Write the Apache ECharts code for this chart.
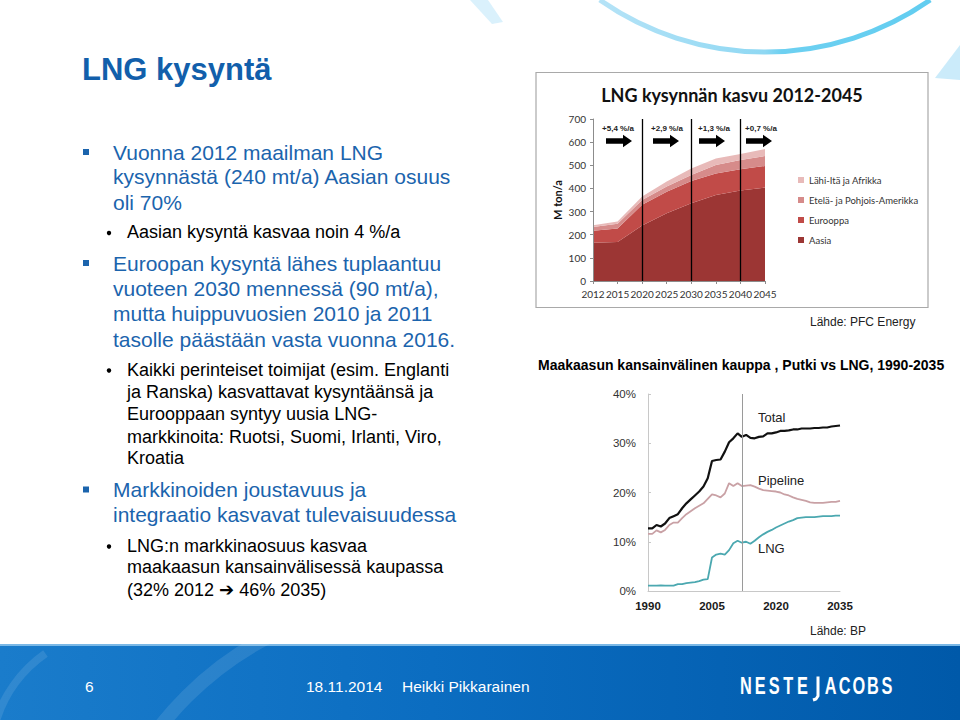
<!DOCTYPE html>
<html>
<head>
<meta charset="utf-8">
<script src="https://cdn.jsdelivr.net/npm/echarts@6/dist/echarts.min.js"></script>
<style>
html,body{margin:0;padding:0;background:#fff;}
#main{width:960px;height:720px;}
</style>
</head>
<body>
<div id="main"></div>
<script>
// ---------- DATA ----------
// Chart 1: LNG kysynnän kasvu 2012-2045 (M ton/a)
const lngYears = ['2012','2015','2020','2025','2030','2035','2040','2045'];
const aasia    = [165, 168, 240, 293, 336, 372, 391, 404];
const eurooppa = [52, 59, 89, 93, 96, 93, 92, 93];
const amerikka = [16, 20, 21, 22, 26, 36, 40, 43];
const lahiIta  = [8, 10, 15, 22, 28, 28, 26, 30];
const dividerYears = ['2020','2030','2040'];
const growthLabels = ['+5,4 %/a','+2,9 %/a','+1,3 %/a','+0,7 %/a'];
const lngTicks = [0,100,200,300,400,500,600,700];

// Chart 2: Maakaasun kansainvälinen kauppa, 1990-2035 (%)
const tradeYears = ['1990','1991','1992','1993','1994','1995','1996','1997','1998','1999',
  '2000','2001','2002','2003','2004','2005','2006','2007','2008','2009',
  '2010','2011','2012','2013','2014','2015','2016','2017','2018','2019',
  '2020','2021','2022','2023','2024','2025','2026','2027','2028','2029',
  '2030','2031','2032','2033','2034','2035'];
const total = [12.7,12.7,13.4,13.1,13.7,14.8,15.2,15.6,16.8,17.8,
  18.6,19.4,20.2,21.2,22.9,26.4,26.6,26.7,28.3,30.2,
  31.0,32.0,31.3,31.7,31.1,31.0,31.3,31.4,32.0,32.0,
  32.2,32.5,32.5,32.6,32.8,32.8,33.0,33.0,33.0,33.1,
  33.1,33.2,33.2,33.4,33.5,33.6];
const pipeline = [11.6,11.6,12.3,11.9,12.4,13.4,13.9,13.9,14.8,15.6,
  16.2,16.8,17.3,17.8,18.7,19.6,19.4,19.0,19.8,21.9,
  21.3,21.9,21.3,21.4,21.5,21.2,20.8,20.5,20.4,20.3,
  20.2,20.0,19.6,19.4,19.0,18.7,18.5,18.3,18.0,17.9,
  17.9,17.9,18.0,18.1,18.1,18.3];
const lng = [1.1,1.1,1.1,1.15,1.1,1.1,1.1,1.4,1.4,1.6,
  1.7,1.8,2.0,2.3,2.4,6.8,7.4,7.6,7.4,8.3,
  9.7,10.2,9.8,10.0,9.6,10.2,10.9,11.5,12.0,12.4,
  12.9,13.3,13.7,14.1,14.4,14.8,14.9,15.0,15.0,15.0,
  15.1,15.2,15.2,15.2,15.3,15.3];
const tradeDivider = '2012';

// ---------- STYLE ----------
const C_ASIA = '#9c3634', C_EUR = '#c14b48', C_AME = '#d68b8a', C_ME = '#e8bab9';
const BLUE = '#1b64ad';
const SANS = '"Liberation Sans", Arial, sans-serif';
const CAL = 'Lato, "Open Sans", sans-serif';

const g = [];
function txt(t, x, y, o) {
  o = o || {};
  g.push({type:'text', x:x, y:y, z:o.z||10, rotation:o.rot||0, scaleX:o.sx||1, silent:true,
    style:{text:t, fill:o.color||'#000', fontSize:o.size||12, fontFamily:o.family||SANS,
      fontWeight:o.weight||'normal', align:o.align||'left', verticalAlign:o.va||'middle'}});
}

// top decoration arc
g.push({type:'arc', z:0, silent:true,
  shape:{cx:765, cy:-236, r:288, startAngle:55*Math.PI/180, endAngle:125*Math.PI/180, clockwise:true},
  style:{fill:'none', lineWidth:5,
    stroke:{type:'linear', x:0, y:0, x2:1, y2:0, colorStops:[{offset:0, color:'#b5e3f7'},{offset:0.5,color:'#8fd8f3'},{offset:0.55,color:'#6dd0f1'},{offset:1,color:'#62cdf0'}]}}});
g.push({type:'polygon', z:0, silent:true, shape:{points:[[470,0],[488,0],[503,22],[492,24]]}, style:{fill:'rgba(150,215,245,0.35)'}});
g.push({type:'polygon', z:0, silent:true, shape:{points:[[960,45],[960,80],[935,78]]}, style:{fill:'rgba(140,210,245,0.45)'}});

// footer
g.push({type:'rect', z:0, silent:true, shape:{x:0, y:645, width:960, height:75},
  style:{fill:{type:'linear', x:0, y:0, x2:1, y2:0, colorStops:[{offset:0,color:'#1a7ccb'},{offset:0.45,color:'#0b6dc1'},{offset:1,color:'#0059a9'}]}}});
g.push({type:'rect', z:0, silent:true, shape:{x:0, y:644, width:960, height:2}, style:{fill:'#7ab8e6'}});
g.push({type:'arc', z:1, silent:true, shape:{cx:420, cy:930, r:330, startAngle:200*Math.PI/180, endAngle:250*Math.PI/180, clockwise:true},
  style:{fill:'none', stroke:'rgba(255,255,255,0.10)', lineWidth:14}});
g.push({type:'arc', z:1, silent:true, shape:{cx:120, cy:760, r:130, startAngle:195*Math.PI/180, endAngle:235*Math.PI/180, clockwise:true},
  style:{fill:'none', stroke:'rgba(255,255,255,0.10)', lineWidth:8}});
txt('6', 85, 686, {color:'#fff', size:15.5});
txt('18.11.2014', 306, 686, {color:'#fff', size:15.5});
txt('Heikki Pikkarainen', 402, 686, {color:'#fff', size:15.5});
const logo = 'NESTEJACOBS';
for (let i = 0; i < logo.length; i++) {
  const cx = 746 + i*14.1;
  if (logo[i] === 'J') {
    // stylised logo J: tall stem descending below the baseline with a small hook
    g.push({type:'polyline', z:10, silent:true,
      shape:{points:[[cx+1.5, 676.5],[cx+1.5, 696],[cx-0.5, 699],[cx-3.5, 700]]},
      style:{stroke:'#fff', lineWidth:3, fill:'none', lineCap:'butt', lineJoin:'round'}});
  } else {
    txt(logo[i], cx, 685, {color:'#fff', size:24, weight:'bold', align:'center', sx:0.68});
  }
}

// slide title + bullets
txt('LNG kysyntä', 82, 69, {color:'#125fab', size:31, weight:'bold'});
const lines = [
  ['Vuonna 2012 maailman LNG', 152, 1, true],
  ['kysynnästä (240 mt/a) Aasian osuus', 176.5, 1],
  ['oli 70%', 202.5, 1],
  ['Aasian kysyntä kasvaa noin 4 %/a', 232, 2, true],
  ['Euroopan kysyntä lähes tuplaantuu', 263, 1, true],
  ['vuoteen 2030 mennessä (90 mt/a),', 288, 1],
  ['mutta huippuvuosien 2010 ja 2011', 313.5, 1],
  ['tasolle päästään vasta vuonna 2016.', 339.5, 1],
  ['Kaikki perinteiset toimijat (esim. Englanti', 369.5, 2, true],
  ['ja Ranska) kasvattavat kysyntäänsä ja', 392, 2],
  ['Eurooppaan syntyy uusia LNG-', 414, 2],
  ['markkinoita: Ruotsi, Suomi, Irlanti, Viro,', 437, 2],
  ['Kroatia', 458, 2],
  ['Markkinoiden joustavuus ja', 489.5, 1, true],
  ['integraatio kasvavat tulevaisuudessa', 514.5, 1],
  ['LNG:n markkinaosuus kasvaa', 545.5, 2, true],
  ['maakaasun kansainvälisessä kaupassa', 567, 2],
  ['(32% 2012 ➔ 46% 2035)', 590, 2]
];
lines.forEach(function(l){
  if (l[2] === 1) {
    txt(l[0], 113, l[1], {color:BLUE, size:21});
    if (l[3]) g.push({type:'rect', z:10, silent:true, shape:{x:83, y:l[1]-3, width:6, height:6}, style:{fill:BLUE}});
  } else {
    txt(l[0], 127, l[1], {color:'#000', size:18, family:'"Liberation Sans", "DejaVu Sans", sans-serif'});
    if (l[3]) g.push({type:'circle', z:10, silent:true, shape:{cx:109, cy:l[1]+1, r:2.2}, style:{fill:'#000'}});
  }
});

// chart 1 frame and labels
g.push({type:'rect', z:1, silent:true, shape:{x:536, y:72.5, width:392, height:235}, style:{fill:'#fff', stroke:'#a9a9a9', lineWidth:1.2}});
txt('LNG kysynnän kasvu 2012-2045', 732, 95, {size:18, weight:'bold', family:CAL, align:'center', color:'#111'});
txt('M ton/a', 557, 200, {size:11, weight:'bold', family:CAL, align:'center', rot:Math.PI/2, color:'#111'});
const arrowX = [606, 653, 699, 746];
const labelX = [618, 667, 714, 761];
arrowX.forEach(function(x0, i){
  const y = 141;
  g.push({type:'polygon', z:20, silent:true, shape:{points:[[x0,y-2.7],[x0+17,y-2.7],[x0+17,y-6.2],[x0+26,y],[x0+17,y+6.2],[x0+17,y+2.7],[x0,y+2.7]]}, style:{fill:'#000'}});
  txt(growthLabels[i], labelX[i], 128, {size:8, weight:'bold', align:'center', color:'#222', z:20});
});
txt('Lähde: PFC Energy', 810, 322, {size:12, color:'#222'});

// chart 2 labels
txt('Maakaasun kansainvälinen kauppa , Putki vs LNG, 1990-2035', 538, 365, {size:14, weight:'bold', color:'#000'});
txt('Total', 758, 417, {size:13, color:'#222'});
txt('Pipeline', 758, 480, {size:13, color:'#222'});
txt('LNG', 758, 548, {size:13, color:'#222'});
txt('Lähde: BP', 810, 631, {size:12, color:'#222'});

const chart = echarts.init(document.getElementById('main'), null, {renderer:'svg'});
const areaSeries = function(name, data, color, extra) {
  return Object.assign({
    name:name, type:'line', xAxisIndex:0, yAxisIndex:0, stack:'lng', data:data,
    symbol:'none', smooth:false, lineStyle:{width:0}, areaStyle:{color:color, opacity:1},
    itemStyle:{color:color}, emphasis:{disabled:true}, z:3
  }, extra || {});
};
chart.setOption({
  animation:false,
  graphic:g,
  grid:[{left:593, top:119, width:172, height:162}, {left:648, top:394, width:192, height:197}],
  legend:{
    data:['Lähi-Itä ja Afrikka','Etelä- ja Pohjois-Amerikka','Eurooppa','Aasia'],
    orient:'vertical', left:793, top:170, itemWidth:6, itemHeight:6, itemGap:10, icon:'rect',
    textStyle:{fontFamily:CAL, fontSize:9.5, color:'#333'}, selectedMode:false, z:20
  },
  xAxis:[
    {gridIndex:0, type:'category', data:lngYears, boundaryGap:false,
     axisLine:{lineStyle:{color:'#8c8c8c'}}, axisTick:{show:true, length:3, lineStyle:{color:'#8c8c8c'}},
     axisLabel:{interval:0, hideOverlap:false, color:'#333', fontFamily:CAL, fontSize:10, margin:8}, z:5},
    {gridIndex:1, type:'category', data:tradeYears, boundaryGap:false,
     axisLine:{lineStyle:{color:'#c8c8c8'}}, axisTick:{show:false},
     axisLabel:{interval:14, color:'#1a1a1a', fontFamily:SANS, fontWeight:'bold', fontSize:11.5, margin:9}}
  ],
  yAxis:[
    {gridIndex:0, type:'value', min:lngTicks[0], max:lngTicks[lngTicks.length-1], interval:100,
     splitLine:{show:false}, axisLine:{show:true, lineStyle:{color:'#8c8c8c'}},
     axisTick:{show:true, length:3, lineStyle:{color:'#8c8c8c'}},
     axisLabel:{color:'#333', fontFamily:CAL, fontSize:10, margin:7}, z:5},
    {gridIndex:1, type:'value', min:0, max:40, interval:10,
     splitLine:{show:false}, axisLine:{show:true, lineStyle:{color:'#c8c8c8'}},
     axisTick:{show:true, inside:true, length:3, lineStyle:{color:'#c8c8c8'}},
     axisLabel:{color:'#333', fontFamily:SANS, fontSize:11.5, margin:12, formatter:'{value}%'}}
  ],
  series:[
    areaSeries('Aasia', aasia, C_ASIA),
    areaSeries('Eurooppa', eurooppa, C_EUR),
    areaSeries('Etelä- ja Pohjois-Amerikka', amerikka, C_AME),
    areaSeries('Lähi-Itä ja Afrikka', lahiIta, C_ME, {
      markLine:{silent:true, symbol:['none','none'], label:{show:false},
        lineStyle:{color:'#000', width:1.3, type:'solid'},
        data:dividerYears.map(function(y){ return {xAxis:y}; })}
    }),
    {name:'Pipeline', type:'line', xAxisIndex:1, yAxisIndex:1, data:pipeline, symbol:'none',
     lineStyle:{color:'#c9a1a5', width:1.8}, itemStyle:{color:'#c9a1a5'}, emphasis:{disabled:true},
     markLine:{silent:true, symbol:['none','none'], label:{show:false},
       lineStyle:{color:'#9a9a9a', width:1, type:'solid'},
       data:[{xAxis:tradeDivider}]}},
    {name:'LNG', type:'line', xAxisIndex:1, yAxisIndex:1, data:lng, symbol:'none',
     lineStyle:{color:'#4ba8b0', width:1.8}, itemStyle:{color:'#4ba8b0'}, emphasis:{disabled:true}},
    {name:'Total', type:'line', xAxisIndex:1, yAxisIndex:1, data:total, symbol:'none',
     lineStyle:{color:'#111', width:2.2}, itemStyle:{color:'#111'}, emphasis:{disabled:true}}
  ]
});
</script>
</body>
</html>
